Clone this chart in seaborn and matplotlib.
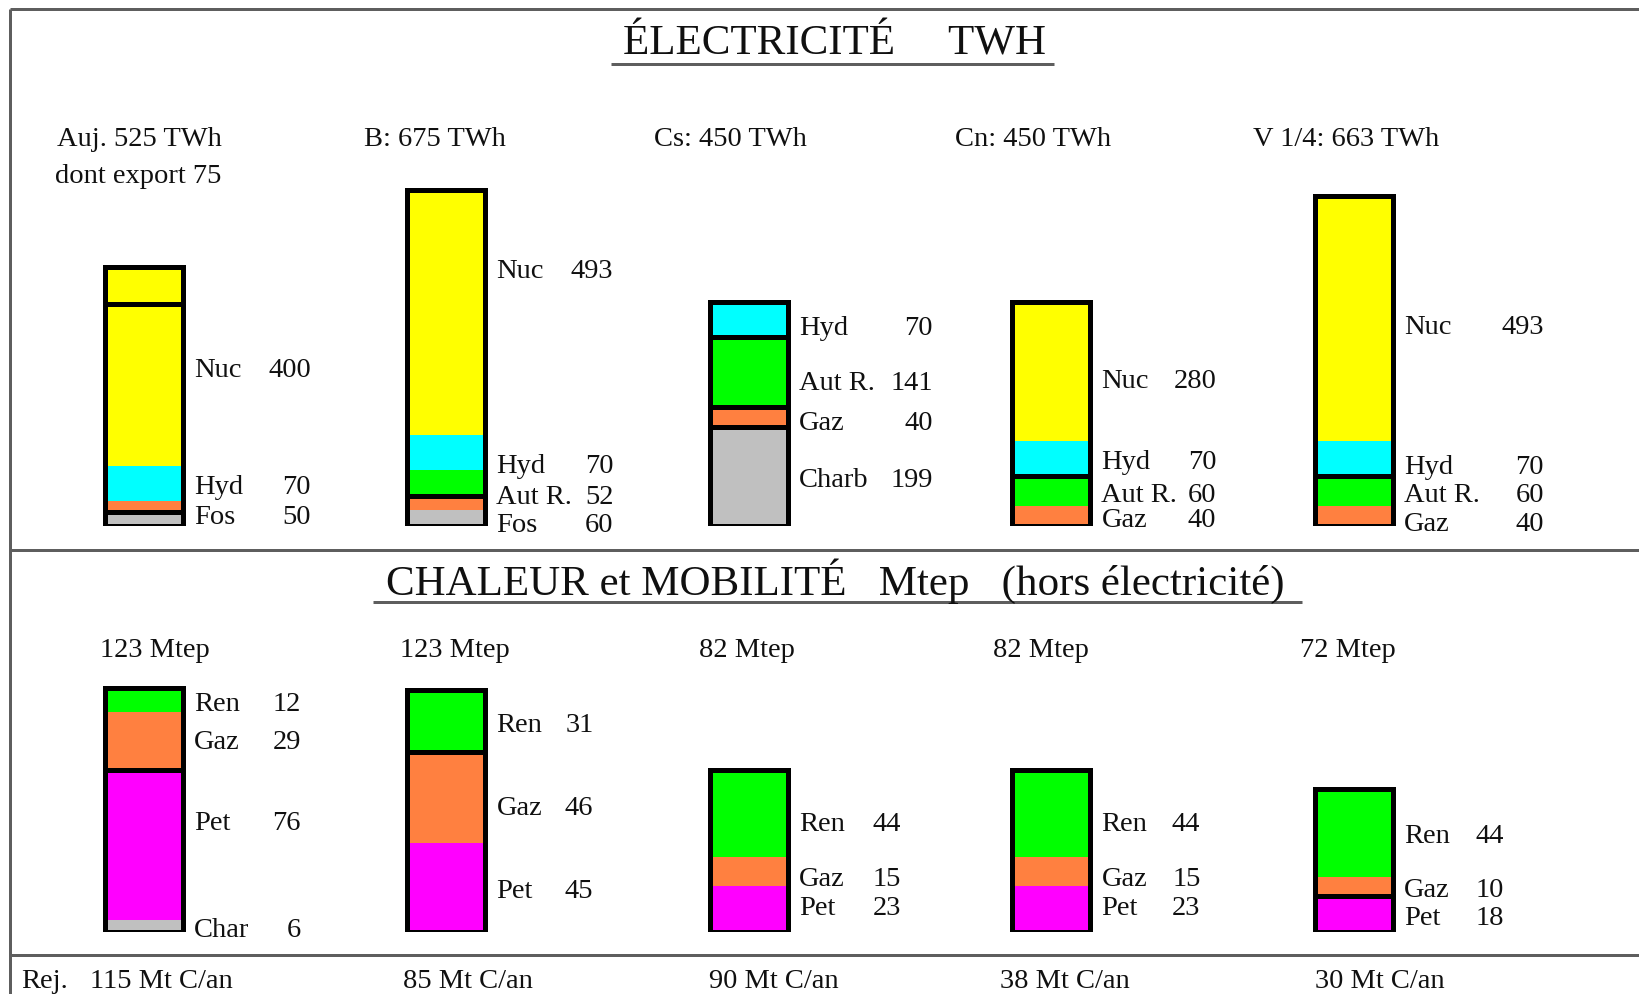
import numpy as np
import pandas as pd
import matplotlib
matplotlib.use("Agg")
import matplotlib.pyplot as plt
import seaborn as sns

# ---------------------------------------------------------------- data
scenarios = ["Auj.", "B", "Cs", "Cn", "V 1/4"]

# Electricity (TWh), stacked bottom -> top
elec_sources = ["Charb", "Gaz", "Aut R.", "Hyd", "Nuc"]
elec_charb = [28, 33, 199, 0, 0]
elec_gaz = [22, 27, 40, 40, 40]
elec_autr = [0, 52, 141, 60, 60]
elec_hyd = [70, 70, 70, 70, 70]
elec_nuc = [400, 493, 0, 280, 493]
elec_export_today = 75
elec_headers = ["Auj. 525 TWh", "B: 675 TWh", "Cs: 450 TWh", "Cn: 450 TWh", "V 1/4: 663 TWh"]
elec_note = "dont export 75"

# Heat and mobility (Mtep), stacked bottom -> top
heat_sources = ["Char", "Pet", "Gaz", "Ren"]
heat_char = [6, 0, 0, 0, 0]
heat_pet = [76, 45, 23, 23, 18]
heat_gaz = [29, 46, 15, 15, 10]
heat_ren = [12, 31, 44, 44, 44]
heat_headers = ["123 Mtep", "123 Mtep", "82 Mtep", "82 Mtep", "72 Mtep"]

# Carbon emissions per scenario
emissions_prefix = "Rej."
emissions = ["115 Mt C/an", "85 Mt C/an", "90 Mt C/an", "38 Mt C/an", "30 Mt C/an"]

# label groups per bar (name shown, sources summed)
elec_label_groups = [
    [("Nuc", ["Nuc"]), ("Hyd", ["Hyd"]), ("Fos", ["Charb", "Gaz"])],
    [("Nuc", ["Nuc"]), ("Hyd", ["Hyd"]), ("Aut R.", ["Aut R."]), ("Fos", ["Charb", "Gaz"])],
    [("Hyd", ["Hyd"]), ("Aut R.", ["Aut R."]), ("Gaz", ["Gaz"]), ("Charb", ["Charb"])],
    [("Nuc", ["Nuc"]), ("Hyd", ["Hyd"]), ("Aut R.", ["Aut R."]), ("Gaz", ["Gaz"])],
    [("Nuc", ["Nuc"]), ("Hyd", ["Hyd"]), ("Aut R.", ["Aut R."]), ("Gaz", ["Gaz"])],
]
heat_label_groups = [
    [("Ren", ["Ren"]), ("Gaz", ["Gaz"]), ("Pet", ["Pet"]), ("Char", ["Char"])],
    [("Ren", ["Ren"]), ("Gaz", ["Gaz"]), ("Pet", ["Pet"])],
    [("Ren", ["Ren"]), ("Gaz", ["Gaz"]), ("Pet", ["Pet"])],
    [("Ren", ["Ren"]), ("Gaz", ["Gaz"]), ("Pet", ["Pet"])],
    [("Ren", ["Ren"]), ("Gaz", ["Gaz"]), ("Pet", ["Pet"])],
]
# black dividing lines drawn on top of these sources
elec_dividers = [["Charb"], ["Gaz"], ["Charb", "Gaz", "Aut R."], ["Aut R."], ["Aut R."]]
heat_dividers = [["Pet"], ["Gaz"], [], [], ["Pet"]]

# ---------------------------------------------------------------- style
COLORS = {
    "Charb": "#c0c0c0", "Char": "#c0c0c0",
    "Gaz": "#ff8040",
    "Aut R.": "#00ff00", "Ren": "#00ff00",
    "Hyd": "#00ffff",
    "Nuc": "#ffff00",
    "Pet": "#ff00ff",
}
TXT = "#101010"
RULE = "#5e5e5e"

sns.set_style("white")
plt.rcParams["font.family"] = ["Liberation Serif", "DejaVu Serif"]

W, H = 1640, 995
PX = 72 / 100            # points per pixel at dpi 100
X0, STEP = 144, 302.5    # pixel centre of first bar, spacing between bars
BAR_W = 78 / STEP
EDGE_LW = 3.6
SMALL = 20.5
BIG = 31
CAP_HALF = 9.5           # half cap height of the small text, px
NAME_DX = 50             # px from bar centre to label name

fig = plt.figure(figsize=(W / 100, H / 100), dpi=100)
fig.patch.set_facecolor("white")


def panel_axes(top_px, base_px, px_per_unit):
    ax = fig.add_axes([0, (H - base_px) / H, 1, (base_px - top_px) / H])
    ax.set_facecolor("none")
    return ax, (0, (base_px - top_px) / px_per_unit)


def draw_panel(ax, ylim, sources, series, groups, dividers, nudges, value_dx):
    data = pd.DataFrame(series, index=sources, columns=scenarios, dtype=float)
    bottom = np.zeros(len(scenarios))
    base = {}
    for src in sources:
        vals = data.loc[src].to_numpy()
        base[src] = bottom.copy()
        sns.barplot(x=scenarios, y=vals, bottom=bottom.copy(), color=COLORS[src],
                    saturation=1, width=BAR_W, errorbar=None, linewidth=0,
                    edgecolor="none", ax=ax)
        bottom = bottom + vals
    totals = bottom
    sns.barplot(x=scenarios, y=totals, fill=False, color="black", linewidth=EDGE_LW,
                width=BAR_W, errorbar=None, ax=ax, zorder=5)

    for i, divs in enumerate(dividers):
        for src in divs:
            y = base[src][i] + data.loc[src].iloc[i]
            ax.hlines(y, i - BAR_W / 2, i + BAR_W / 2, color="black",
                      lw=EDGE_LW, zorder=6)

    for i, grp in enumerate(groups):
        for name, members in grp:
            lo = min(base[s][i] for s in members)
            hi = max(base[s][i] + data.loc[s].iloc[i] for s in members)
            total = int(round(sum(data.loc[s].iloc[i] for s in members)))
            yc = (lo + hi) / 2
            dy = -(CAP_HALF + nudges.get((i, name), 0)) * PX
            ax.annotate(name, (i, yc), xytext=(NAME_DX * PX, dy),
                        textcoords="offset points", ha="left", va="baseline",
                        fontsize=SMALL, color=TXT, annotation_clip=False)
            ax.annotate(str(total), (i, yc), xytext=(value_dx[i] * PX, dy),
                        textcoords="offset points", ha="right", va="baseline",
                        fontsize=SMALL, color=TXT, annotation_clip=False)

    ax.set_xlim(-X0 / STEP, (W - X0) / STEP)
    ax.set_ylim(*ylim)
    ax.set_axis_off()
    return base, data


# ---------------------------------------------------------------- electricity
ax_e, ylim_e = panel_axes(0, 527, 0.498)
base_e, data_e = draw_panel(
    ax_e, ylim_e, elec_sources,
    [elec_charb, elec_gaz, elec_autr, elec_hyd, elec_nuc],
    elec_label_groups, elec_dividers,
    nudges={(1, "Nuc"): -45, (1, "Hyd"): 10, (1, "Aut R."): 10, (1, "Fos"): 10,
            (2, "Aut R."): 8, (2, "Hyd"): 5, (2, "Gaz"): 3, (3, "Nuc"): 6,
            (4, "Nuc"): 5, (4, "Hyd"): 5, (4, "Gaz"): 4},
    value_dx=[167, 167, 184, 165, 190],
)
# exported share at the top of today's nuclear output
nuc_top = base_e["Nuc"][0] + elec_nuc[0]
ax_e.hlines(nuc_top - elec_export_today, -BAR_W / 2, BAR_W / 2,
            color="black", lw=EDGE_LW, zorder=6)

# ---------------------------------------------------------------- heat / mobility
ax_h, ylim_h = panel_axes(551, 933, 1.98)
draw_panel(
    ax_h, ylim_h, heat_sources,
    [heat_char, heat_pet, heat_gaz, heat_ren],
    heat_label_groups, heat_dividers,
    nudges={(0, "Pet"): -25, (0, "Gaz"): -2, (1, "Gaz"): 7, (2, "Ren"): 7,
            (2, "Gaz"): 4, (2, "Pet"): -5, (3, "Ren"): 7, (3, "Gaz"): 4,
            (3, "Pet"): -5},
    value_dx=[157, 147, 152, 149, 150],
)

# ---------------------------------------------------------------- frame and texts
ov = fig.add_axes([0, 0, 1, 1])
ov.set_xlim(0, W)
ov.set_ylim(H, 0)
ov.set_axis_off()
ov.patch.set_alpha(0)

rule_lw = 3 * PX
ov.plot([10.5, 10.5], [10, H], color=RULE, lw=rule_lw, solid_capstyle="butt")
for y in (10, 551, 956):
    ov.plot([10, W], [y, y], color=RULE, lw=rule_lw, solid_capstyle="butt")

ov.text(835, 54.5, "ÉLECTRICITÉ     TWH", ha="center", va="baseline",
        fontsize=BIG, color=TXT)
ov.plot([611, 1054], [64.5, 64.5], color=RULE, lw=rule_lw, solid_capstyle="butt")
ov.text(835, 595, "CHALEUR et MOBILITÉ   Mtep   (hors électricité)", ha="center",
        va="baseline", fontsize=BIG, color=TXT)
ov.plot([373, 1302], [603, 603], color=RULE, lw=rule_lw, solid_capstyle="butt")

for x, s in zip([57, 364, 654, 955, 1253], elec_headers):
    ov.text(x, 146, s, ha="left", va="baseline", fontsize=SMALL, color=TXT)
ov.text(55, 183, elec_note, ha="left", va="baseline", fontsize=SMALL, color=TXT)

for x, s in zip([100, 400, 699, 993, 1300], heat_headers):
    ov.text(x, 657, s, ha="left", va="baseline", fontsize=SMALL, color=TXT)

ov.text(21, 988, emissions_prefix, ha="left", va="baseline", fontsize=SMALL, color=TXT)
for x, s in zip([90, 403, 709, 1000, 1315], emissions):
    ov.text(x, 988, s, ha="left", va="baseline", fontsize=SMALL, color=TXT)

fig.savefig("out.png", dpi=100, facecolor="white")
